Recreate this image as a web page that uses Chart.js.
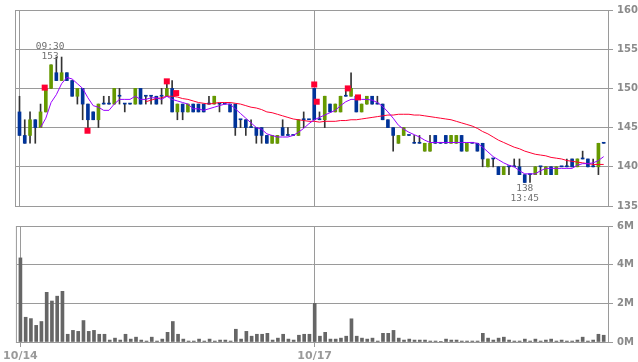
<!DOCTYPE html>
<html>
<head>
<meta charset="utf-8">
<script src="https://cdn.jsdelivr.net/npm/chart.js@4.4.1/dist/chart.umd.min.js"></script>
<style>
  body { margin: 0; background: #fff; }
  canvas { position: absolute; left: 0; }
  #price { top: 0; }
  #volume { top: 216px; }
</style>
</head>
<body>
<canvas id="price" width="638" height="216"></canvas>
<canvas id="volume" width="638" height="146"></canvas>
<script>
// 5-minute bars, 10/14 (bars 0-55) and 10/17 (bars 56-111)
const opens = [
  147,144,144,146,145,147,150,152,151,152, 151,149,150,148,147,146,148,148,148,149,
  148,148,148,150,149,149,149,149,149,150, 147,148,147,148,148,148,148,148,148,148,
  148,148,146,146,145,145,145,144,143,143, 145,144,144,144,146,146,150,146,146,148,
  147,147,149,149,149,147,148,149,148,148, 146,145,143,144,144,143,143,142,142,144,
  143,144,143,143,144,142,143,143,143,140, 141,140,139,140,140,140,139,139,139,140,
  139,140,139,140,140,141,140,141,141,140, 140,143
];
const highs = [
  149,146,147,146,148,150,153,154,154,152, 151,150,150,148,147,148,149,149,150,150,
  148,148,150,150,149,149,149,150,151,151, 148,148,148,148,148,148,149,149,148,148,
  148,148,146,146,146,145,145,144,144,144, 146,145,144,146,147,146,150,147,149,148,
  148,149,150,152,149,148,149,149,149,148, 146,145,144,145,144,144,144,143,144,144,
  143,144,144,144,144,143,143,143,143,141, 141,140,140,140,141,141,139,139,140,140,
  140,140,140,140,141,141,141,142,141,141, 143,143
];
const lows = [
  144,143,143,143,145,147,150,151,151,151, 149,148,146,145,146,145,148,148,148,148,
  147,148,148,148,148,148,148,148,149,147, 146,146,147,147,147,147,148,148,147,148,
  147,144,145,144,145,143,143,143,143,143, 144,144,144,144,145,146,146,146,145,147,
  147,147,149,149,147,147,148,148,148,146, 145,142,143,144,144,143,143,142,142,143,
  143,143,143,143,142,142,143,142,140,140, 140,139,139,139,140,139,138,138,139,139,
  139,139,139,140,140,140,140,141,140,140, 139,143
];
const closes = [
  144,143,146,145,147,150,153,151,152,151, 149,150,148,146,146,148,148,148,150,149,
  148,148,150,148,149,149,148,149,150,147, 148,147,148,147,147,147,148,149,148,148,
  147,145,146,145,145,144,144,143,144,144, 144,144,144,146,146,146,146,146,149,147,
  148,149,149,150,147,148,149,148,148,146, 145,144,144,145,144,143,143,143,143,143,
  143,143,144,144,142,143,143,142,141,141, 141,139,140,140,140,139,138,139,140,140,
  140,139,140,140,140,140,141,141,140,140, 143,143
];
// volume in millions of shares
const volumes = [
  4.35,1.28,1.21,0.86,1.06,2.57,2.12,2.37,2.62,0.40, 0.60,0.55,1.11,0.55,0.60,0.40,0.40,0.10,0.20,0.10,
  0.40,0.15,0.25,0.10,0.05,0.25,0.05,0.15,0.50,1.06, 0.40,0.15,0.05,0.05,0.15,0.05,0.15,0.05,0.10,0.10,
  0.05,0.66,0.15,0.55,0.30,0.40,0.40,0.45,0.10,0.20, 0.40,0.15,0.10,0.35,0.40,0.40,2.00,0.30,0.50,0.15,
  0.15,0.20,0.30,1.20,0.30,0.20,0.15,0.20,0.05,0.45, 0.45,0.60,0.20,0.10,0.15,0.10,0.10,0.10,0.05,0.05,
  0.02,0.15,0.10,0.10,0.05,0.05,0.05,0.05,0.45,0.20, 0.10,0.20,0.25,0.10,0.05,0.05,0.15,0.05,0.15,0.05,
  0.10,0.15,0.05,0.10,0.05,0.05,0.10,0.25,0.05,0.10, 0.40,0.35
];
// short (purple) and long (red) moving average lines
const maShort = [
  null,null,null,null,145.0,146.2,148.2,149.2,150.6,151.4, 151.2,150.6,150.0,148.8,147.8,147.6,147.2,147.2,148.0,148.6,
  148.6,148.6,149.0,148.6,148.6,148.8,148.8,148.6,149.0,148.6, 148.4,148.2,148.0,147.4,147.4,147.2,147.4,147.6,147.8,148.0,
  148.0,147.4,146.8,146.2,145.6,145.0,144.8,144.2,144.0,143.8, 143.8,143.8,144.0,144.4,144.9,145.5,146.0,146.3,146.6,146.9,
  147.2,147.8,148.3,148.6,148.6,148.6,148.6,148.5,148.2,147.7, 147.0,146.2,145.3,144.8,144.4,144.1,143.8,143.4,143.1,143.1,
  143.1,143.1,143.1,143.1,143.1,143.1,143.1,143.0,142.5,141.9, 141.3,140.9,140.5,140.2,140.0,139.5,139.1,139.1,139.1,139.5,
  139.8,139.8,139.8,139.8,139.8,139.8,140.2,140.4,140.4,140.5, 140.8,141.3
];
const maLong = [
  null,null,null,null,null,null,null,null,null,null, null,null,null,null,null,null,null,null,null,null,
  null,null,null,null,148.3,148.5,148.7,148.8,149.0,149.0, 148.9,148.7,148.6,148.4,148.2,148.1,148.0,148.1,148.2,148.2,
  148.2,148.1,148.0,147.8,147.6,147.5,147.3,147.0,146.9,146.7, 146.5,146.3,146.1,146.0,145.9,145.8,145.8,145.7,145.8,145.8,
  145.8,145.9,145.9,146.0,146.0,146.1,146.2,146.3,146.4,146.5, 146.6,146.6,146.7,146.7,146.7,146.6,146.6,146.5,146.4,146.3,
  146.2,146.1,146.0,145.8,145.6,145.4,145.2,144.9,144.5,144.2, 143.8,143.4,143.1,142.8,142.5,142.3,142.0,141.8,141.6,141.5,
  141.4,141.2,141.1,141.0,140.8,140.7,140.6,140.5,140.4,140.3, 140.3,140.3
];
// red signal squares: bar position and price
const signalBars   = [4.79, 12.92, 27.99, 29.77, 56.0, 56.47, 62.38, 64.32];
const signalPrices = [150.1, 144.6, 150.9, 149.4, 150.5, 148.3, 150.0, 148.85];

const dayTicks = [0, 56];
const dayNames = ['10/14', '10/17'];
const highNote = { bar: 6, price: 153, time: '09:30' };
const lowNote  = { bar: 96, price: 138, time: '13:45' };

const UP = '#669900', DOWN = '#003399', WICK = '#333333';
const GRID = '#9a9a9a', TICK = '#8a8a8a';
const X_MIN = -0.665, X_MAX = 111.82;

Chart.defaults.font.family = '"DejaVu Sans", sans-serif';

const idx = closes.map((_, i) => i);
const toPoints = arr => arr.map((v, i) => v === null ? null : { x: i, y: v }).filter(p => p);

const framePlugin = {
  id: 'frame',
  beforeDatasetsDraw(chart) {
    const { ctx, chartArea: a } = chart;
    ctx.save();
    ctx.strokeStyle = GRID;
    ctx.lineWidth = 1;
    ctx.strokeRect(a.left - 0.5, a.top + 0.5, a.right - a.left + 1, a.bottom - a.top);
    ctx.restore();
  }
};

const notePlugin = {
  id: 'notes',
  afterDatasetsDraw(chart) {
    const { ctx, scales: { x, y } } = chart;
    ctx.save();
    ctx.font = '9.5px "DejaVu Sans Mono"';
    ctx.fillStyle = '#6f6f6f';
    ctx.textAlign = 'center';
    ctx.textBaseline = 'middle';
    const hx = x.getPixelForValue(highNote.bar) - 1, hy = y.getPixelForValue(highNote.price);
    ctx.fillText(String(highNote.price), hx, hy - 8);
    ctx.fillText(highNote.time, hx, hy - 18);
    const lx = x.getPixelForValue(lowNote.bar), ly = y.getPixelForValue(lowNote.price);
    ctx.fillText(String(lowNote.price), lx, ly + 6.5);
    ctx.fillText(lowNote.time, lx, ly + 16.5);
    ctx.restore();
  }
};

const dayGrid = scale => { scale.ticks = dayTicks.map(v => ({ value: v })); };

new Chart(document.getElementById('price'), {
  type: 'bar',
  plugins: [framePlugin, notePlugin],
  data: {
    datasets: [
      {
        type: 'line', label: 'signals', order: 0,
        data: signalBars.map((b, i) => ({ x: b, y: signalPrices[i] })),
        showLine: false, pointStyle: 'rect', pointRadius: 4.24,
        pointBackgroundColor: '#ff0033', pointBorderWidth: 0
      },
      {
        type: 'line', label: 'short MA', order: 1,
        data: toPoints(maShort),
        borderColor: '#9900ff', borderWidth: 1, pointRadius: 0, tension: 0
      },
      {
        type: 'line', label: 'long MA', order: 2,
        data: toPoints(maLong),
        borderColor: '#ff0033', borderWidth: 1, pointRadius: 0, tension: 0
      },
      {
        label: 'body', order: 3, grouped: false,
        data: idx.map(i => ({ x: i, y: [Math.min(opens[i], closes[i]), Math.max(opens[i], closes[i])] })),
        backgroundColor: idx.map(i => closes[i] > opens[i] ? UP : DOWN),
        barThickness: 3, minBarLength: 1
      },
      {
        label: 'wick', order: 4, grouped: false,
        data: idx.map(i => ({ x: i, y: [lows[i], highs[i]] })),
        backgroundColor: WICK,
        barThickness: 1
      }
    ]
  },
  options: {
    responsive: false, animation: false, devicePixelRatio: 1, events: [],
    layout: { padding: { left: 16, top: 4, right: 0, bottom: 5 } },
    plugins: { legend: { display: false }, tooltip: { enabled: false } },
    scales: {
      x: {
        type: 'linear', min: X_MIN, max: X_MAX, offset: false,
        afterBuildTicks: dayGrid,
        afterFit: s => { s.height = 0; },
        ticks: { display: false },
        grid: { color: GRID, drawTicks: false, offset: false },
        border: { display: false }
      },
      y: {
        position: 'right', min: 135, max: 160,
        afterFit: s => { s.width = 30; },
        ticks: { stepSize: 5, color: TICK, font: { size: 10, weight: 'bold' }, padding: 4 },
        grid: { color: GRID, tickLength: 5 },
        border: { color: GRID }
      }
    }
  }
});

new Chart(document.getElementById('volume'), {
  type: 'bar',
  plugins: [framePlugin],
  data: {
    datasets: [{
      label: 'volume',
      data: idx.map(i => ({ x: i, y: volumes[i] })),
      backgroundColor: '#666666',
      barThickness: 3
    }]
  },
  options: {
    responsive: false, animation: false, devicePixelRatio: 1, events: [],
    layout: { padding: { left: 16, top: 8, right: 0, bottom: 0 } },
    plugins: { legend: { display: false }, tooltip: { enabled: false } },
    scales: {
      x: {
        type: 'linear', min: X_MIN, max: X_MAX, offset: false,
        afterBuildTicks: dayGrid,
        afterFit: s => { s.height = 20; },
        ticks: {
          color: '#9a9a9a', font: { size: 11, weight: 'bold' }, padding: 3, maxRotation: 0,
          callback: v => dayNames[dayTicks.indexOf(v)]
        },
        grid: { color: GRID, tickLength: 5, offset: false },
        border: { display: false }
      },
      y: {
        position: 'right', min: 0, max: 6,
        afterFit: s => { s.width = 30; },
        ticks: { stepSize: 2, color: TICK, font: { size: 10, weight: 'bold' }, padding: 4, callback: v => v + 'M' },
        grid: { color: GRID, tickLength: 5 },
        border: { color: GRID }
      }
    }
  }
});
</script>
</body>
</html>
